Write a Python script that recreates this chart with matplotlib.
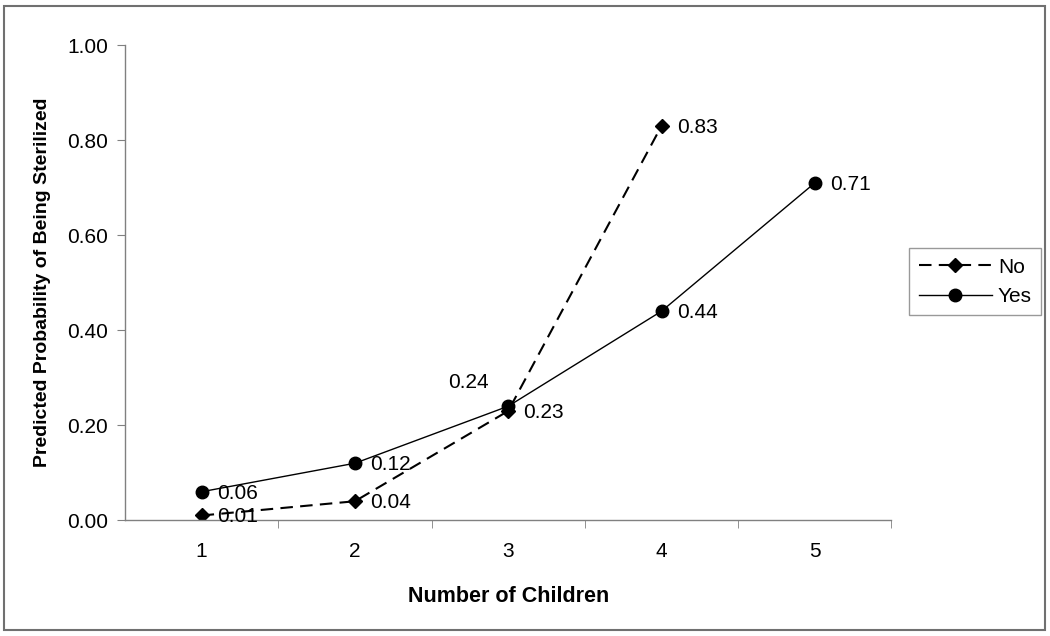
import matplotlib.pyplot as plt
import matplotlib.patches as mpatches

plt.rcParams['font.family'] = ['Liberation Sans', 'DejaVu Sans']

# data
children = [1, 2, 3, 4, 5]
prob_no = [0.01, 0.04, 0.23, 0.83]
prob_yes = [0.06, 0.12, 0.24, 0.44, 0.71]

fig = plt.figure(figsize=(10.5, 6.36), dpi=100)
ax = fig.add_axes([0.119, 0.182, 0.730, 0.747])

ax.plot(children[:4], prob_no, color='black', linestyle=(0, (6, 3.5)), linewidth=1.5,
        marker='D', markersize=7.5, label='No')
ax.plot(children, prob_yes, color='black', linestyle='-', linewidth=1.0,
        marker='o', markersize=9, label='Yes')

# value labels
for x, y in zip(children[:4], prob_no):
    ax.annotate(f'{y:.2f}', (x, y), xytext=(11, -1), textcoords='offset points',
                va='center', ha='left', fontsize=15)
for x, y in zip(children, prob_yes):
    if x == 3:
        ax.annotate(f'{y:.2f}', (x, y), xytext=(-14, 17), textcoords='offset points',
                    va='center', ha='right', fontsize=15)
    else:
        ax.annotate(f'{y:.2f}', (x, y), xytext=(11, -1), textcoords='offset points',
                    va='center', ha='left', fontsize=15)

ax.set_xlim(0.5, 5.5)
ax.set_ylim(0, 1.0)
ax.set_xticks(children)
ax.set_xticks([1.5, 2.5, 3.5, 4.5, 5.5], minor=True)
ax.set_yticks([0, 0.2, 0.4, 0.6, 0.8, 1.0])
ax.set_yticklabels([f'{v:.2f}' for v in [0, 0.2, 0.4, 0.6, 0.8, 1.0]])
ax.tick_params(axis='x', which='major', length=0, pad=16, labelsize=15)
ax.tick_params(axis='x', which='minor', length=6, direction='out', color='#808080')
ax.tick_params(axis='y', length=6, direction='out', color='#808080', pad=6, labelsize=15)

for side in ['top', 'right']:
    ax.spines[side].set_visible(False)
for side in ['left', 'bottom']:
    ax.spines[side].set_color('#808080')
    ax.spines[side].set_linewidth(1.0)

ax.set_xlabel('Number of Children', fontsize=15.5, fontweight='bold', labelpad=18)
ax.set_ylabel('Predicted Probability of Being Sterilized', fontsize=14,
              fontweight='bold', labelpad=12)

leg = fig.legend(loc='center left', bbox_to_anchor=(0.866, 0.557), fontsize=15,
                 frameon=True, fancybox=False, edgecolor='#808080', borderaxespad=0,
                 handlelength=3.5, borderpad=0.45, labelspacing=0.5, handletextpad=0.3)
leg.get_frame().set_linewidth(1.0)

# outer frame
fig.patches.append(mpatches.Rectangle((0.004, 0.01), 0.991, 0.98, transform=fig.transFigure,
                                      fill=False, edgecolor='#707070', linewidth=1.5))

fig.savefig('out.png', dpi=100)
